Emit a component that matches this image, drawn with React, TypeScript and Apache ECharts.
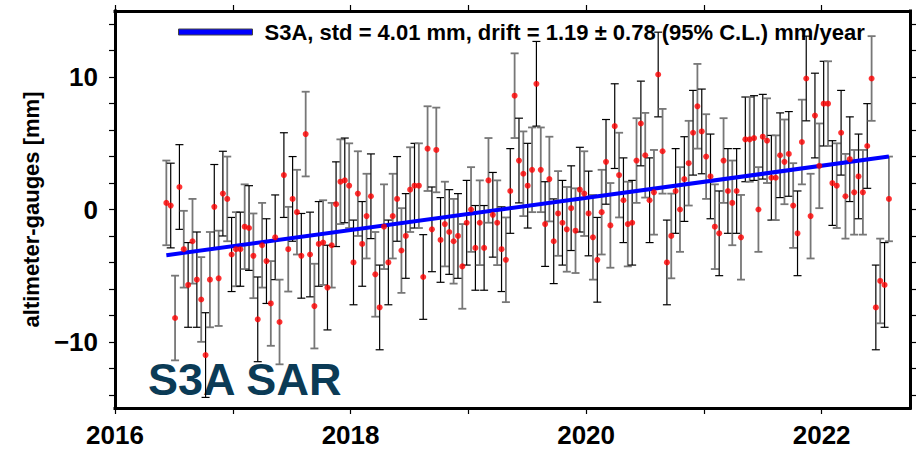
import React, { useEffect, useRef } from 'react';
import * as echarts from 'echarts';

// Decimal years of each altimeter-minus-gauge sample
const years = [
  2016.436, 2016.473, 2016.510, 2016.547, 2016.584, 2016.621, 2016.658, 2016.695, 2016.732, 2016.769,
  2016.806, 2016.843, 2016.880, 2016.916, 2016.953, 2016.990, 2017.027, 2017.064, 2017.101, 2017.138,
  2017.175, 2017.212, 2017.249, 2017.286, 2017.323, 2017.360, 2017.397, 2017.434, 2017.471, 2017.508,
  2017.545, 2017.582, 2017.619, 2017.656, 2017.693, 2017.730, 2017.767, 2017.804, 2017.840, 2017.877,
  2017.914, 2017.951, 2017.988, 2018.025, 2018.062, 2018.099, 2018.136, 2018.173, 2018.210, 2018.247,
  2018.284, 2018.321, 2018.358, 2018.395, 2018.432, 2018.469, 2018.506, 2018.543, 2018.580, 2018.617,
  2018.654, 2018.691, 2018.728, 2018.764, 2018.801, 2018.838, 2018.875, 2018.912, 2018.949, 2018.986,
  2019.023, 2019.060, 2019.097, 2019.134, 2019.171, 2019.208, 2019.245, 2019.282, 2019.319, 2019.356,
  2019.393, 2019.430, 2019.467, 2019.504, 2019.541, 2019.578, 2019.615, 2019.652, 2019.688, 2019.725,
  2019.762, 2019.799, 2019.836, 2019.873, 2019.910, 2019.947, 2019.984, 2020.021, 2020.058, 2020.095,
  2020.132, 2020.169, 2020.206, 2020.243, 2020.280, 2020.317, 2020.354, 2020.391, 2020.428, 2020.465,
  2020.502, 2020.539, 2020.576, 2020.612, 2020.649, 2020.686, 2020.723, 2020.760, 2020.797, 2020.834,
  2020.871, 2020.908, 2020.945, 2020.982, 2021.019, 2021.056, 2021.093, 2021.130, 2021.167, 2021.204,
  2021.241, 2021.278, 2021.315, 2021.352, 2021.389, 2021.426, 2021.463, 2021.500, 2021.536, 2021.573,
  2021.610, 2021.647, 2021.684, 2021.721, 2021.758, 2021.795, 2021.832, 2021.869, 2021.906, 2021.943,
  2021.980, 2022.017, 2022.054, 2022.091, 2022.128, 2022.165, 2022.202, 2022.239, 2022.276, 2022.313,
  2022.350, 2022.387, 2022.424, 2022.460, 2022.497, 2022.534, 2022.571,
];

// altimeter - gauges differences [mm]
const values = [
  0.5, 0.3, -8.2, 1.7, -3.0, -5.7, -2.4, -5.3, -6.8, -11.0,
  -5.3, 0.2, -5.2, 1.2, 0.8, -3.4, -3.0, -3.0, -1.3, -1.4,
  -3.5, -8.3, -2.7, -3.9, -7.1, -2.1, -8.5, 2.6, -3.0, 0.8,
  -0.2, -3.5, 5.7, -3.4, -7.3, -2.6, -2.5, -5.9, -2.7, 0.4,
  2.1, 2.2, 1.8, -4.0, 1.2, -2.6, -0.5, 1.0, -4.9, -7.4,
  -1.3, -4.0, -0.5, 0.8, -3.1, -2.0, 1.5, 1.8, 1.8, -5.1,
  4.6, -1.5, 4.5, -2.3, -1.1, -1.7, -2.4, -2.0, -4.3, -1.0,
  0.0, -2.9, -1.0, -2.9, 2.2, -0.4, -1.0, -3.0, -3.8, 1.4,
  8.6, 3.7, 2.7, 1.8, 3.0, 9.5, 3.0, -1.1, 2.3, -2.4,
  -0.3, -1.0, -1.5, 0.1, -1.6, 1.5, 1.2, -0.3, -2.1, -3.8,
  -0.2, 3.6, -1.2, 6.3, 2.6, 0.7, -1.1, -1.0, 3.7, 6.5,
  4.1, 0.7, 1.3, 10.2, 4.4, -4.0, -2.0, 1.4, 0.0, 2.3,
  3.5, 5.8, 7.8, 5.9, 4.0, 2.5, -1.3, -1.8, 3.7, 1.4,
  0.5, 1.4, -2.1, 5.3, 5.3, 5.4, 0.0, 5.5, 5.2, 2.4,
  2.4, 4.1, 3.6, 4.2, 0.3, -1.8, 5.1, 9.9, -0.5, 7.1,
  3.3, 8.0, 8.0, 2.0, 1.8, 5.8, 1.0, 3.8, 1.3, 2.5,
  1.3, 4.8, 9.9, -7.4, -5.4, -5.7, 0.8,
];

// half-length of each error bar [mm]
const errors = [
  3.2, 3.2, 3.2, 3.2, 2.9, 3.2, 3.2, 3.6, 3.2, 3.2,
  3.6, 3.2, 3.6, 3.2, 3.2, 2.8, 2.8, 2.8, 3.2, 3.2,
  3.2, 3.2, 3.2, 3.2, 3.2, 3.2, 3.2, 3.2, 3.2, 3.2,
  3.2, 3.2, 3.2, 3.2, 3.2, 3.2, 3.2, 3.2, 3.2, 3.2,
  3.2, 3.2, 3.2, 3.2, 3.2, 3.2, 3.2, 3.2, 3.2, 3.2,
  3.2, 3.2, 3.2, 3.2, 3.2, 3.2, 3.2, 3.2, 3.2, 3.2,
  3.2, 3.2, 3.2, 3.2, 3.2, 3.2, 3.2, 3.2, 3.2, 3.2,
  3.2, 3.2, 3.2, 3.2, 3.2, 3.2, 3.2, 3.2, 3.2, 3.2,
  3.2, 3.2, 3.2, 3.2, 3.2, 3.2, 3.2, 3.2, 3.2, 3.2,
  3.2, 3.2, 3.2, 3.2, 3.2, 3.2, 3.2, 3.2, 3.2, 3.2,
  3.2, 3.2, 3.2, 3.2, 3.2, 3.2, 3.2, 3.2, 3.2, 3.2,
  3.2, 3.2, 3.2, 3.2, 3.2, 3.2, 3.2, 3.2, 3.2, 3.2,
  3.2, 3.2, 3.2, 3.2, 3.2, 3.2, 3.2, 3.2, 3.2, 3.2,
  3.2, 3.2, 3.2, 3.2, 3.2, 3.2, 3.2, 3.2, 3.2, 3.2,
  3.2, 3.2, 3.2, 3.2, 3.2, 3.2, 3.2, 3.2, 3.2, 3.2,
  3.2, 3.2, 3.2, 3.2, 3.2, 3.2, 3.2, 3.2, 3.2, 3.2,
  3.2, 3.2, 3.2, 3.2, 3.2, 3.2, 3.2,
];

// linear drift fit end points
const trendYears = [2016.436, 2022.571];
const trendValues = [-3.45, 4.0];

const xTickValues = [2016, 2017, 2018, 2019, 2020, 2021, 2022];
const xLabelValues = [2016, 2018, 2020, 2022];
const yTickValues = [-14, -12, -10, -8, -6, -4, -2, 0, 2, 4, 6, 8, 10, 12, 14];
const yLabelValues = [-10, 0, 10];

const legendName = 'S3A, std = 4.01 mm, drift = 1.19 ± 0.78 (95% C.L.) mm/year';
const yTitle = 'altimeter-gauges [mm]';
const panelTitle = 'S3A SAR';

const FONT = '"Liberation Sans", Arial, Helvetica, sans-serif';

export default function App() {
  const ref = useRef<HTMLDivElement>(null);

  useEffect(() => {
    if (!ref.current) return;
    const chart = echarts.init(ref.current, undefined, { renderer: 'svg' });

    const barData = years.map((y, i) => [y, values[i], errors[i]]);
    const dotData = years.map((y, i) => [y, values[i]]);
    const trendData = trendYears.map((y, i) => [y, trendValues[i]]);

    const axisLine = { show: true, onZero: false, lineStyle: { color: '#000', width: 3, cap: 'square' } };
    const tick = (vals: number[]) => ({
      show: true,
      inside: false,
      length: 6,
      customValues: vals,
      lineStyle: { color: '#000', width: 1.2 },
    });

    chart.setOption({
      animation: false,
      backgroundColor: '#fff',
      grid: { left: 115, right: 13, top: 11, bottom: 45, containLabel: false },
      legend: {
        show: true,
        left: 173,
        top: 16,
        itemWidth: 74,
        itemHeight: 6,
        data: [{ name: legendName, icon: 'rect' }],
        itemStyle: { color: '#0000ff', borderColor: '#444', borderWidth: 1 },
        textStyle: { fontFamily: FONT, fontWeight: 'bold', fontSize: 22, color: '#000', padding: [0, 0, 0, 7] },
        selectedMode: false,
      },
      xAxis: [
        {
          type: 'value',
          position: 'bottom',
          min: 2016,
          max: 2022.75,
          axisLine,
          axisTick: tick(xTickValues),
          axisLabel: {
            show: true,
            customValues: xLabelValues,
            formatter: (v: number) => String(v),
            margin: 14,
            fontFamily: FONT,
            fontWeight: 'bold',
            fontSize: 26,
            color: '#000',
          },
          splitLine: { show: false },
        },
        {
          type: 'value',
          position: 'top',
          min: 2016,
          max: 2022.75,
          axisLine,
          axisTick: tick(xTickValues),
          axisLabel: { show: false },
          splitLine: { show: false },
        },
      ],
      yAxis: [
        {
          type: 'value',
          position: 'left',
          min: -15,
          max: 15,
          axisLine,
          axisTick: tick(yTickValues),
          axisLabel: {
            show: true,
            customValues: yLabelValues,
            formatter: (v: number) => (v < 0 ? '\u2212' + Math.abs(v) : String(v)),
            margin: 17,
            fontFamily: FONT,
            fontWeight: 'bold',
            fontSize: 26,
            color: '#000',
          },
          splitLine: { show: false },
          name: yTitle,
          nameLocation: 'middle',
          nameRotate: 90,
          nameGap: 70,
          nameTextStyle: { fontFamily: FONT, fontWeight: 'bold', fontSize: 22, color: '#000' },
        },
        {
          type: 'value',
          position: 'right',
          min: -15,
          max: 15,
          axisLine,
          axisTick: tick(yTickValues),
          axisLabel: { show: false },
          splitLine: { show: false },
        },
      ],
      graphic: [
        {
          type: 'text',
          left: 148,
          top: 357,
          z: 0,
          style: {
            text: panelTitle,
            fontFamily: FONT,
            fontWeight: 'bold',
            fontSize: 45,
            fill: '#0b3b56',
          },
        },
      ],
      series: [
        {
          type: 'custom',
          name: 'errorbars',
          xAxisIndex: 0,
          yAxisIndex: 0,
          data: barData,
          encode: { x: 0, y: 1 },
          z: 2,
          renderItem: (params: any, api: any) => {
            const x = api.value(0);
            const y = api.value(1);
            const e = api.value(2);
            const top = api.coord([x, y + e]);
            const bot = api.coord([x, y - e]);
            const gray = params.dataIndex % 2 === 0;
            const style = { stroke: gray ? '#777' : '#000', lineWidth: gray ? 1.8 : 1.2 };
            const hw = 4;
            return {
              type: 'group',
              children: [
                { type: 'line', shape: { x1: top[0], y1: top[1], x2: bot[0], y2: bot[1] }, style },
                { type: 'line', shape: { x1: top[0] - hw, y1: top[1], x2: top[0] + hw, y2: top[1] }, style },
                { type: 'line', shape: { x1: bot[0] - hw, y1: bot[1], x2: bot[0] + hw, y2: bot[1] }, style },
              ],
            };
          },
        },
        {
          type: 'line',
          name: legendName,
          data: trendData,
          symbol: 'none',
          z: 3,
          lineStyle: { color: '#0000ff', width: 4 },
          itemStyle: { color: '#0000ff' },
        },
        {
          type: 'scatter',
          name: 'points',
          data: dotData,
          symbol: 'circle',
          symbolSize: 6,
          z: 4,
          itemStyle: { color: '#ff0000' },
        },
      ],
    });

    return () => chart.dispose();
  }, []);

  return (
    <div
      ref={ref}
      style={{ position: 'absolute', left: 0, top: 0, width: 923, height: 453 }}
    />
  );
}
